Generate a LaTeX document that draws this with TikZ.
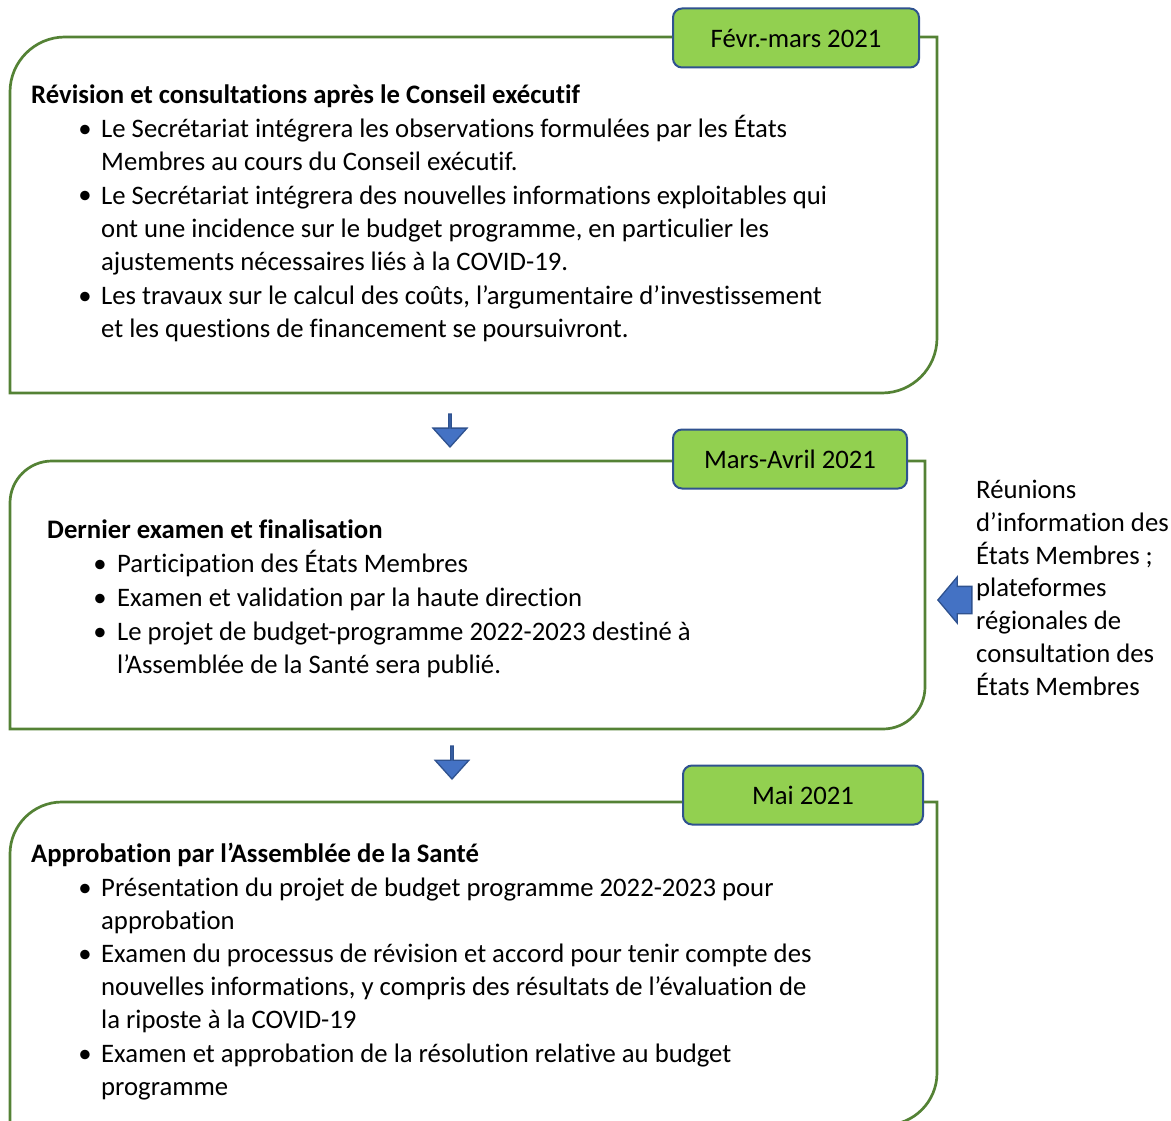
\documentclass[tikz,border=0pt]{standalone}
\usepackage{fontspec}
\setmainfont{Carlito}[Ligatures=NoCommon]
\usetikzlibrary{shapes.arrows}
\definecolor{boxgreen}{RGB}{84,130,53}
\definecolor{tabgreen}{RGB}{146,208,80}
\definecolor{tabblue}{RGB}{47,82,143}
\definecolor{arrowblue}{RGB}{68,114,196}
\tikzset{
  frame/.style={draw=boxgreen,line width=2.7pt},
  tabbox/.style={draw=tabblue,fill=tabgreen,line width=2pt,rounded corners=9pt,
    minimum height=59pt,inner sep=0pt,font=\fontsize{26.7}{32}\selectfont},
  head/.style={anchor=base west,inner sep=0pt,font=\fontsize{26.7}{33}\selectfont\bfseries},
  % anchor at the baseline of the last line
  item/.style={anchor=base west,inner sep=0pt,align=left,font=\fontsize{26.7}{33}\selectfont},
  bul/.style={anchor=base,inner sep=0pt,font=\fontsize{26.7}{33}\selectfont},
  side/.style={anchor=base west,inner sep=0pt,align=left,font=\fontsize{26.7}{32.7}\selectfont},
  blockarrow/.style={single arrow,draw=tabblue,fill=arrowblue,line width=1.3pt,inner xsep=0pt,anchor=tip}
}
\begin{document}
\begin{tikzpicture}[x=1pt,y=-1pt]
\useasboundingbox (0,0) rectangle (1171,1121);

% date tabs
\node[tabbox,minimum width=246pt] (t1) at (796,38) {Févr.-mars 2021};
\node[tabbox,minimum width=234pt] (t2) at (790,459) {Mars-Avril 2021};
\node[tabbox,minimum width=240pt] (t3) at (803,795) {Mai 2021};
\coordinate (l1) at (0,37);
\coordinate (l2) at (0,461);
\coordinate (l3) at (0,802);

% frames
\draw[frame] (t1.east |- l1) -- (937,37) -- (937,338) arc[start angle=0,end angle=90,radius=55]
  -- (10,393) -- (10,92) arc[start angle=180,end angle=270,radius=55] -- (t1.west |- l1);
\draw[frame] (t2.east |- l2) -- (925,461) -- (925,687) arc[start angle=0,end angle=90,radius=42]
  -- (10,729) -- (10,503) arc[start angle=180,end angle=270,radius=42] -- (t2.west |- l2);
\draw[frame] (t3.east |- l3) -- (937,802) -- (937,1073) arc[start angle=0,end angle=90,radius=52]
  -- (10,1125) -- (10,854) arc[start angle=180,end angle=270,radius=52] -- (t3.west |- l3);

% box 1
\node[head] (h1) at (31,104) {Révision et consultations après le Conseil exécutif};
\node[bul] (d11) at (85,138) {\textbullet};
\node[item] (b11) at (101,171) {Le Secrétariat intégrera les observations formulées par les États\\Membres au cours du Conseil exécutif.};
\node[bul] (d12) at (85,204) {\textbullet};
\node[item] (b12) at (101,270) {Le Secrétariat intégrera des nouvelles informations exploitables qui\\ont une incidence sur le budget programme, en particulier les\\ajustements nécessaires liés à la COVID-19.};
\node[bul] (d13) at (85,304) {\textbullet};
\node[item] (b13) at (101,337) {Les travaux sur le calcul des coûts, l’argumentaire d’investissement\\et les questions de financement se poursuivront.};

% box 2
\node[head] (h2) at (47,538) {Dernier examen et finalisation};
\node[bul] (d21) at (100,572) {\textbullet};
\node[item] (b21) at (117,572) {Participation des États Membres};
\node[bul] (d22) at (100,606) {\textbullet};
\node[item] (b22) at (117,606) {Examen et validation par la haute direction};
\node[bul] (d23) at (100,640) {\textbullet};
\node[item] (b23) at (117,673) {Le projet de budget-programme 2022-2023 destiné à\\l’Assemblée de la Santé sera publié.};

% box 3
\node[head] (h3) at (31,862) {Approbation par l’Assemblée de la Santé};
\node[bul] (d31) at (85,896) {\textbullet};
\node[item] (b31) at (101,929) {Présentation du projet de budget programme 2022-2023 pour\\approbation};
\node[bul] (d32) at (85,962) {\textbullet};
\node[item] (b32) at (101,1028) {Examen du processus de révision et accord pour tenir compte des\\nouvelles informations, y compris des résultats de l’évaluation de\\la riposte à la COVID-19};
\node[bul] (d33) at (85,1062) {\textbullet};
\node[item] (b33) at (101,1095) {Examen et approbation de la résolution relative au budget\\programme};

% arrows
\node[blockarrow,shape border rotate=270,minimum height=33pt,minimum width=34pt,
  inner ysep=8pt,single arrow head extend=9pt,single arrow tip angle=84] (a1) at (450,448) {};
\node[blockarrow,shape border rotate=270,minimum height=33pt,minimum width=34pt,
  inner ysep=8pt,single arrow head extend=9pt,single arrow tip angle=84] (a2) at (452,780) {};
\node[blockarrow,shape border rotate=180,minimum height=34pt,minimum width=45pt,
  inner ysep=13pt,single arrow head extend=9.5pt,single arrow tip angle=100] (a3) at (937,600) {};

% side note
\node[side] (s1) at (976,695) {Réunions\\d’information des\\États Membres ;\\plateformes\\régionales de\\consultation des\\États Membres};
\end{tikzpicture}
\end{document}
